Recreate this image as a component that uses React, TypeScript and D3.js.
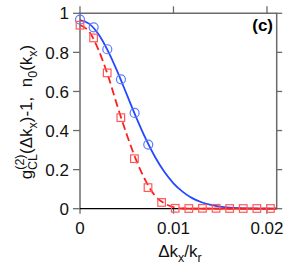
import React from "react";
import * as d3 from "d3";

// Measured points
const circleX = [0, 0.00146, 0.00292, 0.00438, 0.00584, 0.0073];
const circleY = [0.968, 0.928, 0.816, 0.662, 0.49, 0.328];

const squareX = [0, 0.001455, 0.00291, 0.004365, 0.00582, 0.007275, 0.00873, 0.010185, 0.01164, 0.013095, 0.01455, 0.016005, 0.01746, 0.018915, 0.02037];
const squareY = [0.939, 0.874, 0.695, 0.466, 0.256, 0.108, 0.032, 0.002, 0.001, 0.002, 0.002, 0.001, 0.001, 0.001, 0.001];

// Curves
const curveX = [0, 0.001, 0.002, 0.003, 0.004, 0.005, 0.006, 0.007, 0.008, 0.009, 0.01, 0.011, 0.012, 0.013, 0.014, 0.015, 0.016, 0.017, 0.018, 0.019, 0.02, 0.021];
const blueCurveY = [0.965, 0.946, 0.891, 0.806, 0.701, 0.585, 0.469, 0.361, 0.267, 0.19, 0.13, 0.086, 0.054, 0.033, 0.02, 0.011, 0.006, 0.003, 0.0015, 0.0007, 0.0003, 0.0001];
const redCurveY = [0.94, 0.905, 0.81, 0.68, 0.525, 0.38, 0.25, 0.145, 0.068, 0.028, 0.008, 0.001, 0, 0, 0, 0, 0, 0, 0, 0, 0, 0];

const xTicks = [0, 0.01, 0.02];
const xTickLabels = ["0", "0.01", "0.02"];
const yTicks = [0, 0.2, 0.4, 0.6, 0.8, 1];
const yTickLabels = ["0", "0.2", "0.4", "0.6", "0.8", "1"];

const W = 290;
const H = 272;
const L = 80;
const R = 276.7;
const T = 13.3;
const B = 208.7;

export default function App() {
  const x = d3.scaleLinear().domain([0, 0.02104]).range([L, R]);
  const y = d3.scaleLinear().domain([0, 1]).range([B, T]);
  const line = d3
    .line<[number, number]>()
    .x((d) => x(d[0]))
    .y((d) => y(d[1]))
    .curve(d3.curveMonotoneX);
  const blue = line(curveX.map((v, i) => [v, blueCurveY[i]] as [number, number])) || "";
  const redPts = curveX.map((v, i) => [v, redCurveY[i]] as [number, number]);
  const red = line(redPts) || "";
  const redFlat = line(redPts.filter((p, i) => i >= 11)) || "";
  const font = "'Liberation Sans', Arial, Helvetica, sans-serif";
  const frame = "#6b6b6b";
  return (
    <svg
      width={W}
      height={H}
      style={{ position: "absolute", left: 0, top: 0, background: "#fff" }}
      fontFamily={font}
    >
      {/* frame */}
      <path d={`M${L},${B} L${L},${T} L${R},${T} L${R},${B}`} fill="none" stroke={frame} strokeWidth={1.5} />
      {/* y ticks */}
      {yTicks.map((t) => (
        <g key={"y" + t}>
          <line x1={L - 7} x2={L} y1={y(t)} y2={y(t)} stroke={frame} strokeWidth={1.3} />
          <line x1={R} x2={R + 5.5} y1={y(t)} y2={y(t)} stroke={frame} strokeWidth={1.3} />
        </g>
      ))}
      {xTicks.map((t) => (
        <g key={"x" + t}>
          <line x1={x(t)} x2={x(t)} y1={T - 7} y2={T} stroke={frame} strokeWidth={1.3} />
          <line x1={x(t)} x2={x(t)} y1={B} y2={B + 5} stroke={frame} strokeWidth={1.3} />
        </g>
      ))}
      {/* zero line */}
      <line x1={L} x2={R} y1={y(0)} y2={y(0)} stroke="#000" strokeWidth={1.3} />
      {/* tick labels */}
      {yTicks.map((t, i) => (
        <text key={"yl" + t} x={69} y={y(t)} dy="0.36em" textAnchor="end" fontSize={17} fill="#111">
          {yTickLabels[i]}
        </text>
      ))}
      {xTicks.map((t, i) => (
        <text key={"xl" + t} x={x(t)} y={234} textAnchor="middle" fontSize={17} fill="#111">
          {xTickLabels[i]}
        </text>
      ))}
      {/* curves */}
      <path d={blue} fill="none" stroke="#2448ff" strokeWidth={1.8} />
      <path d={red} fill="none" stroke="#ff1e1e" strokeWidth={1.8} strokeDasharray="8,4" />
      <path d={redFlat} fill="none" stroke="#ff1e1e" strokeWidth={1.8} />
      {/* markers */}
      {circleX.map((v, i) => (
        <circle key={"c" + i} cx={x(v)} cy={y(circleY[i])} r={4.5} fill="none" stroke="#5b7bff" strokeWidth={1.2} />
      ))}
      {squareX.map((v, i) => (
        <rect
          key={"s" + i}
          x={x(v) - 3.8}
          y={y(squareY[i]) - 3.8}
          width={7.6}
          height={7.6}
          fill="none"
          stroke="#ff5a5a"
          strokeWidth={1.2}
        />
      ))}
      {/* panel label */}
      <text x={273} y={31} textAnchor="end" fontSize={17} fontWeight="bold" fill="#000">
        (c)
      </text>
      {/* x label */}
      <text x={180} y={257} textAnchor="middle" fontSize={17} fill="#111">
        Δk
        <tspan fontSize={12.5} dy={5}>x</tspan>
        <tspan dy={-5}>/k</tspan>
        <tspan fontSize={12.5} dy={5}>r</tspan>
      </text>
      {/* y label */}
      <text
        transform={`translate(32,112) rotate(-90)`}
        textAnchor="middle"
        fontSize={17}
        fill="#111"
        style={{ whiteSpace: "pre" }}
      >
        g
        <tspan fontSize={12.5} dy={-8}>(2)</tspan>
        <tspan fontSize={12.5} dx={-15.5} dy={13}>CL</tspan>
        <tspan dy={-5}>(Δk</tspan>
        <tspan fontSize={12.5} dy={5}>x</tspan>
        <tspan dy={-5}>{")-1,  n"}</tspan>
        <tspan fontSize={12.5} dy={5}>0</tspan>
        <tspan dy={-5}>(k</tspan>
        <tspan fontSize={12.5} dy={5}>x</tspan>
        <tspan dy={-5}>)</tspan>
      </text>
    </svg>
  );
}
